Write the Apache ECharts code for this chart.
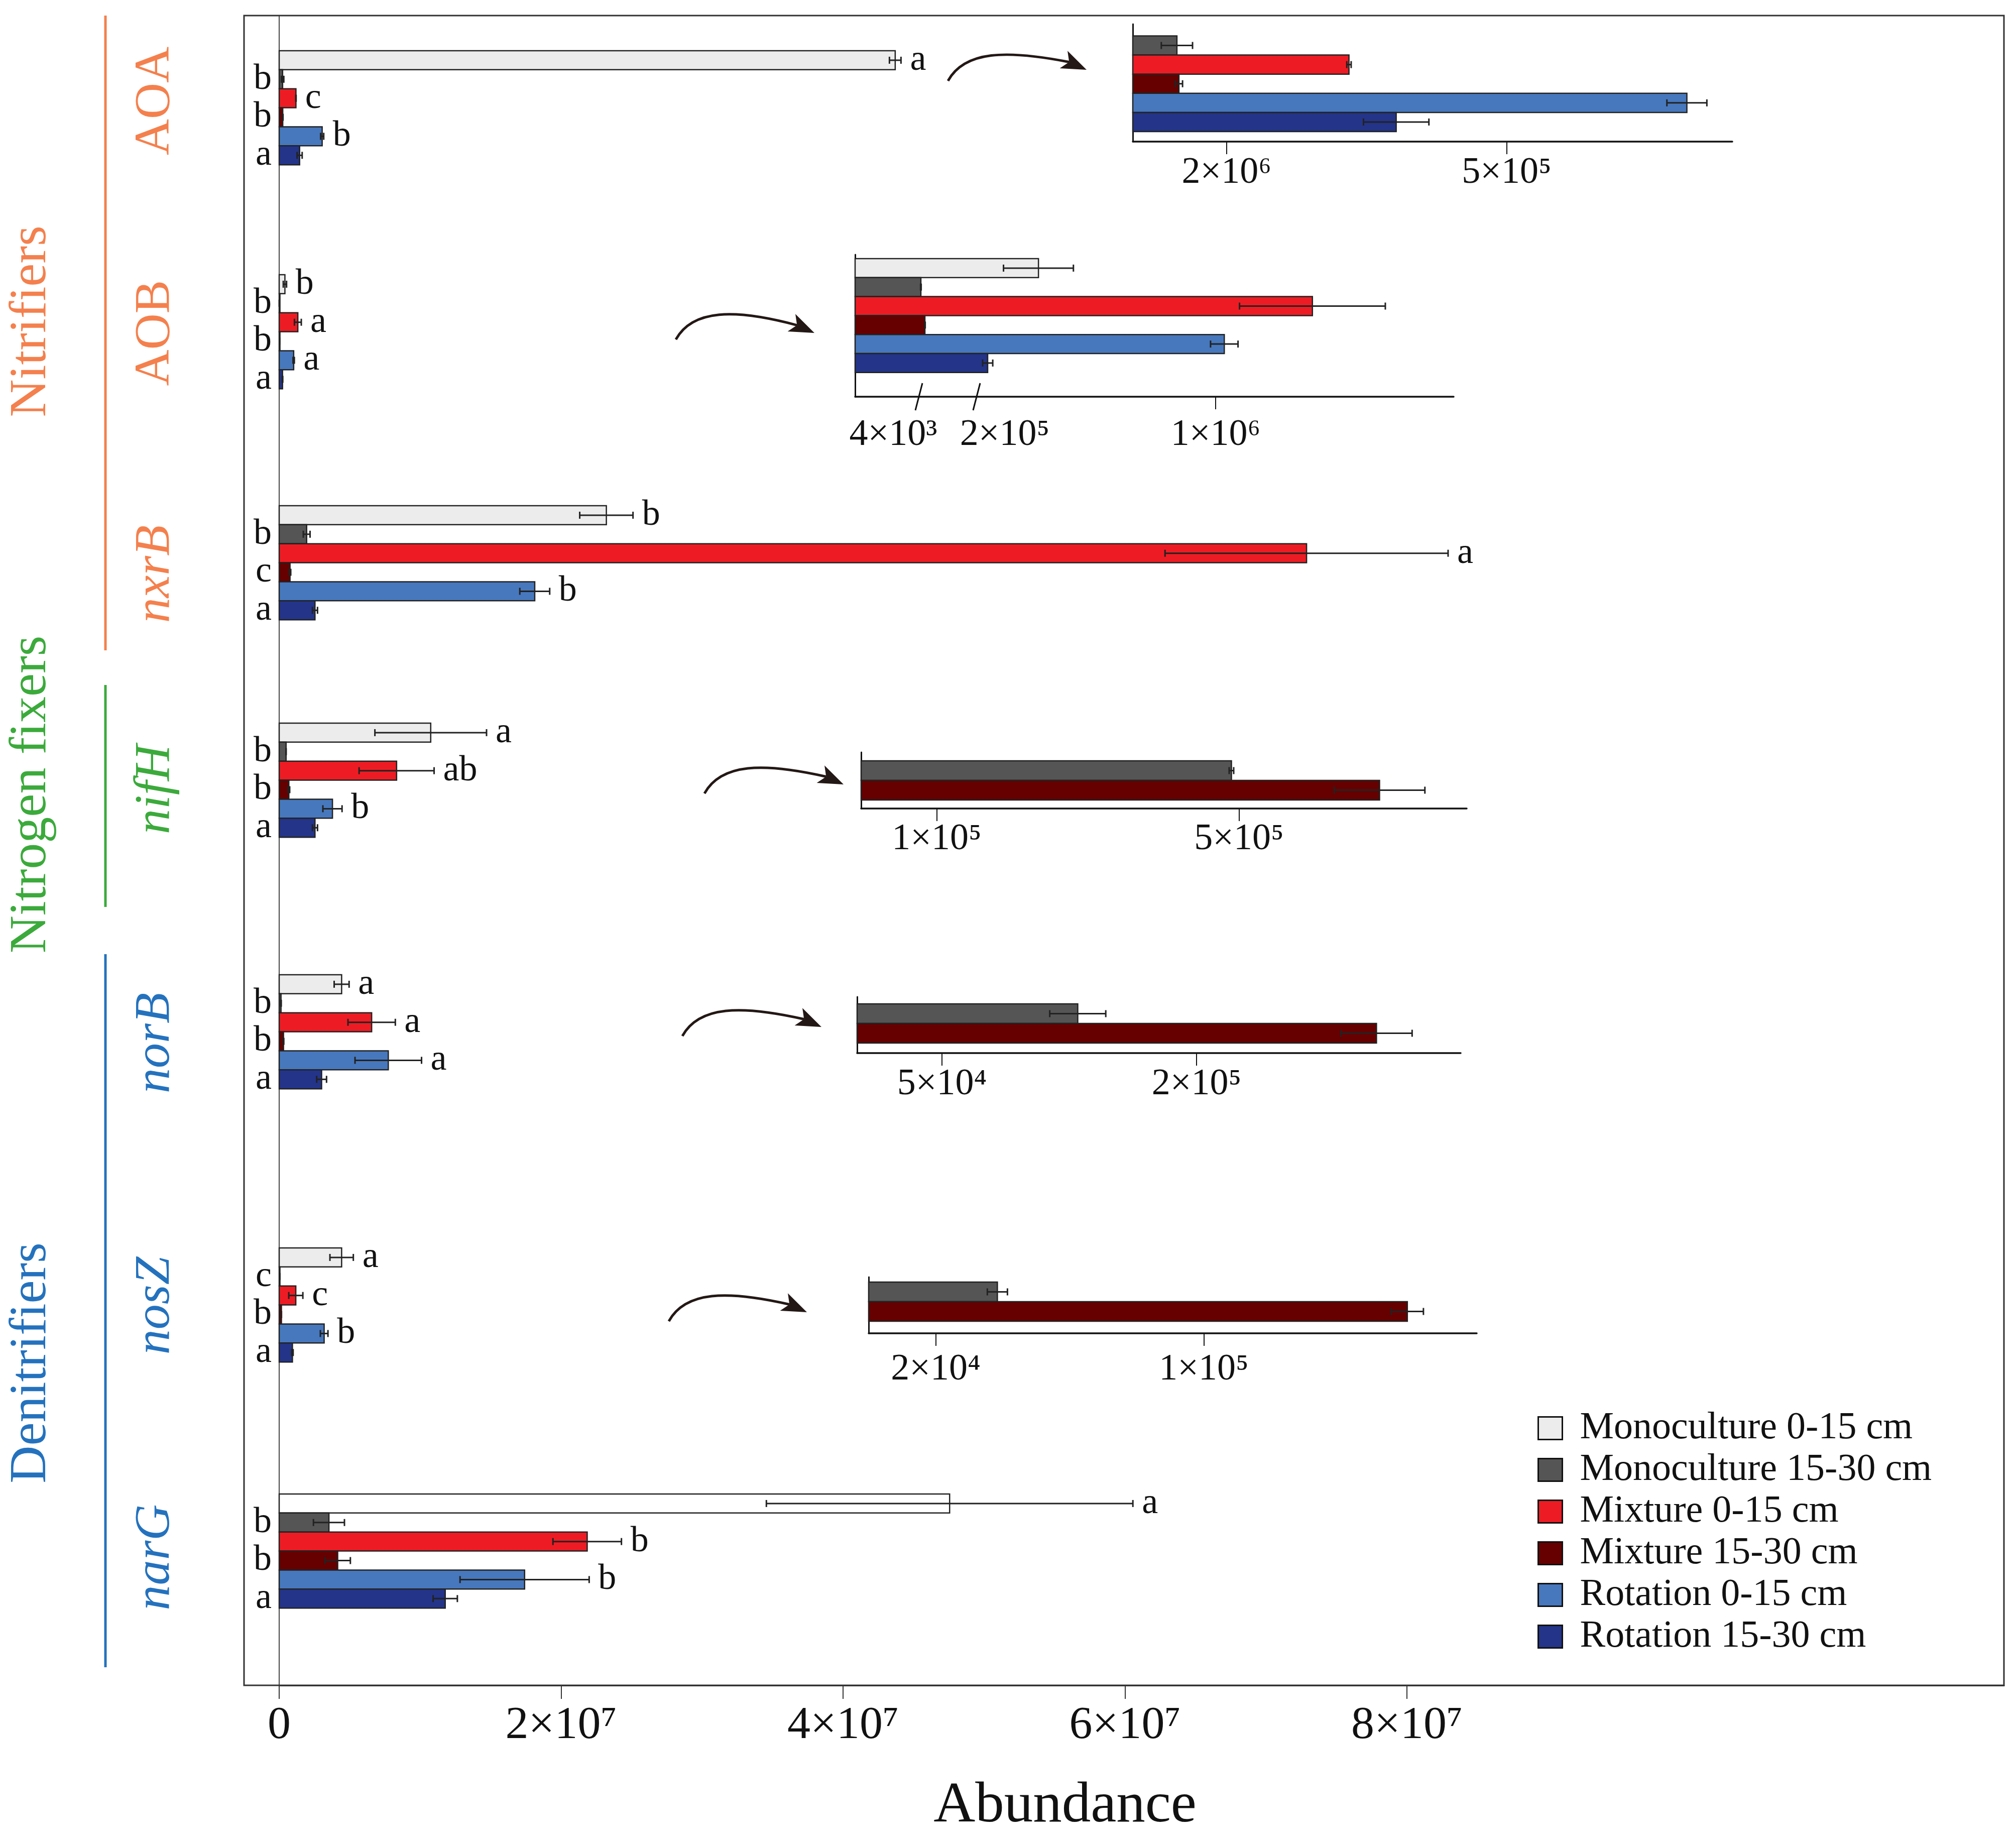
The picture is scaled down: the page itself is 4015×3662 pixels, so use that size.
<!DOCTYPE html>
<html><head><meta charset="utf-8">
<script src="https://cdn.jsdelivr.net/npm/echarts@6/dist/echarts.min.js"></script>
<style>html,body{margin:0;padding:0;background:#fff}#c{width:4015px;height:3662px}</style>
</head><body><div id="c"></div>
<script>
// ---------------- data ----------------
const genes = ['AOA', 'AOB', 'nxrB', 'nifH', 'norB', 'nosZ', 'narG'];
const treatments = ['Monoculture 0-15 cm', 'Monoculture 15-30 cm', 'Mixture 0-15 cm', 'Mixture 15-30 cm', 'Rotation 0-15 cm', 'Rotation 15-30 cm'];
// mean abundance (gene order as above)
const mono0_15  = [43.70e6, 0.407e6, 23.21e6, 10.75e6, 4.43e6, 4.43e6, 47.56e6];
const mono15_30 = [0.243e6, 0.0108e6, 1.95e6, 0.490e6, 0.130e6, 0.0384e6, 3.53e6];
const mix0_15   = [1.19e6, 1.324e6, 72.88e6, 8.33e6, 6.56e6, 1.18e6, 21.85e6];
const mix15_30  = [0.254e6, 0.0245e6, 0.77e6, 0.686e6, 0.306e6, 0.1607e6, 4.15e6];
const rot0_15   = [3.05e6, 1.029e6, 18.13e6, 3.78e6, 7.74e6, 3.19e6, 17.41e6];
const rot15_30  = [1.45e6, 0.237e6, 2.54e6, 2.54e6, 3.01e6, 0.94e6, 11.78e6];
// error bars (±)
const mono0_15Err  = [0.41e6, 0.117e6, 1.89e6, 3.96e6, 0.53e6, 0.83e6, 13.0e6];
const mono15_30Err = [0.086e6, 0.001e6, 0.24e6, 0.003e6, 0.0165e6, 0.003e6, 1.1e6];
const mix0_15Err   = [0.012e6, 0.244e6, 10.04e6, 2.66e6, 1.68e6, 0.50e6, 2.43e6];
const mix15_30Err  = [0.02e6, 0.001e6, 0.05e6, 0.060e6, 0.021e6, 0.0048e6, 0.9e6];
const rot0_15Err   = [0.11e6, 0.046e6, 1.06e6, 0.68e6, 2.36e6, 0.27e6, 4.58e6];
const rot15_30Err  = [0.18e6, 0.017e6, 0.18e6, 0.18e6, 0.35e6, 0.05e6, 0.86e6];
// significance letters
const mono0_15Sig  = ['a', 'b', 'b', 'a', 'a', 'a', 'a'];
const mono15_30Sig = ['b', 'b', 'b', 'b', 'b', 'c', 'b'];
const mix0_15Sig   = ['c', 'a', 'a', 'ab', 'a', 'c', 'b'];
const mix15_30Sig  = ['b', 'b', 'c', 'b', 'b', 'b', 'b'];
const rot0_15Sig   = ['b', 'a', 'b', 'b', 'a', 'b', 'b'];
const rot15_30Sig  = ['a', 'a', 'a', 'a', 'a', 'a', 'a'];
// axis ticks
const xTicks = [0, 2e7, 4e7, 6e7, 8e7];
const xTickLabels = ['0', '2×10⁷', '4×10⁷', '6×10⁷', '8×10⁷'];
const insetAOATicks = [0.516e6, 2.058e6];
const insetAOALabels = ['2×10⁶', '5×10⁵'];
const insetAOBTicks = [4e3, 2e5, 1e6];
const insetAOBLabels = ['4×10³', '2×10⁵', '1×10⁶'];
const insetNifHTicks = [1e5, 5e5];
const insetNifHLabels = ['1×10⁵', '5×10⁵'];
const insetNorBTicks = [5e4, 2e5];
const insetNorBLabels = ['5×10⁴', '2×10⁵'];
const insetNosZTicks = [2e4, 1e5];
const insetNosZLabels = ['2×10⁴', '1×10⁵'];
const groupNames = ['Nitrifiers', 'Nitrogen fixers', 'Denitrifiers'];

// ---------------- style / layout ----------------
const FONT = "'Liberation Serif','Times New Roman',serif";
const colors = ['#ECECEC', '#555555', '#ED1C24', '#660000', '#4778BD', '#233489'];
const valueSets = [mono0_15, mono15_30, mix0_15, mix15_30, rot0_15, rot15_30];
const errSets = [mono0_15Err, mono15_30Err, mix0_15Err, mix15_30Err, rot0_15Err, rot15_30Err];
const sigSets = [mono0_15Sig, mono15_30Sig, mix0_15Sig, mix15_30Sig, rot0_15Sig, rot15_30Sig];
const GRID_TOP = 31, GRID_BOTTOM = 3356, AXIS_X = 556, FRAME_LEFT = 486, FRAME_RIGHT = 3991;
const BAR_H = 37.87;
const PX_PER_2E7 = 561.5;
const XMAX = (FRAME_RIGHT - AXIS_X) / PX_PER_2E7 * 2e7;
const groupTopPx = [101, 547, 1007, 1440, 1941, 2485, 2975];
const geneLabelY = [201, 663, 1143, 1572, 2077, 2600, 3101];
const geneColors = ['#F4804D', '#F4804D', '#F4804D', '#3BAA3B', '#2472BE', '#2472BE', '#2472BE'];
const ROWS = (GRID_BOTTOM - GRID_TOP) / BAR_H;
const INK = '#222';

function aobScale(v) { // broken inset axis for AOB
  if (v <= 4e3) return v / 4e3 * 127;
  if (v <= 2e5) return 127 + (v - 4e3) / 196e3 * 115;
  return 242 + (v - 2e5) / 1e5 * 59.5;
}
const ident = v => v;

function errGroup(eL, eR, y) {
  return [
    {type: 'line', shape: {x1: eL, y1: y, x2: eR, y2: y}, style: {stroke: INK, lineWidth: 3}},
    {type: 'line', shape: {x1: eL, y1: y - 7, x2: eL, y2: y + 7}, style: {stroke: INK, lineWidth: 3}},
    {type: 'line', shape: {x1: eR, y1: y - 7, x2: eR, y2: y + 7}, style: {stroke: INK, lineWidth: 3}}
  ];
}

function mainRender(t) {
  return function (params, api) {
    const i = params.dataIndex;
    const v = api.value(0), row = api.value(1), err = api.value(2);
    const h = api.size([0, 1])[1];
    const p0 = api.coord([0, row]), p1 = api.coord([v, row]);
    const eL = api.coord([Math.max(0, v - err), row]), eR = api.coord([v + err, row]);
    const y = p0[1];
    const fill = (t === 0 && genes[i] === 'narG') ? '#FFFFFF' : colors[t];
    const children = [{type: 'rect', shape: {x: p0[0], y: y - h / 2, width: Math.max(p1[0] - p0[0], 1.5), height: h},
      style: {fill: fill, stroke: INK, lineWidth: 2.5}}].concat(errGroup(eL[0], eR[0], y));
    const right = t % 2 === 0;
    children.push({type: 'text', x: right ? eR[0] + 18 : p0[0] - 15, y: y,
      style: {text: sigSets[t][i], fontFamily: FONT, fontSize: 72, fill: '#111', align: right ? 'left' : 'right', verticalAlign: 'middle'}});
    return {type: 'group', children: children};
  };
}

function insetRender(t) {
  return function (params, api) {
    const v = api.value(0), row = api.value(1), lo = api.value(2), hi = api.value(3);
    const h = api.size([0, 1])[1];
    const p0 = api.coord([0, row]), p1 = api.coord([v, row]);
    const eL = api.coord([lo, row]), eR = api.coord([hi, row]);
    const y = p0[1];
    return {type: 'group', children: [{type: 'rect', shape: {x: p0[0], y: y - h / 2, width: Math.max(p1[0] - p0[0], 1.5), height: h},
      style: {fill: colors[t], stroke: INK, lineWidth: 2.5}}].concat(errGroup(eL[0], eR[0], y))};
  };
}

const insetDefs = [
  {gene: 0, show: [1, 2, 3, 4, 5], left: 2256, right: 3450, vertTop: 48, axisY: 282, barTop: 71.5, barH: 38.1, max: 3.30e6, scale: ident, ticks: insetAOATicks, labels: insetAOALabels, margin: 26},
  {gene: 1, show: [0, 1, 2, 3, 4, 5], left: 1703, right: 2895, vertTop: 507, axisY: 790, barTop: 515, barH: 37.8, max: 1192, scale: aobScale, ticks: insetAOBTicks, labels: insetAOBLabels, margin: 40, broken: true},
  {gene: 3, show: [1, 3], left: 1715, right: 2921, vertTop: 1498, axisY: 1610, barTop: 1515, barH: 39, max: 8.013e5, scale: ident, ticks: insetNifHTicks, labels: insetNifHLabels, margin: 25},
  {gene: 4, show: [1, 3], left: 1707, right: 2909, vertTop: 1985, axisY: 2097, barTop: 1999, barH: 39, max: 3.556e5, scale: ident, ticks: insetNorBTicks, labels: insetNorBLabels, margin: 26},
  {gene: 5, show: [1, 3], left: 1730, right: 2941, vertTop: 2543, axisY: 2655, barTop: 2553, barH: 39, max: 1.814e5, scale: ident, ticks: insetNosZTicks, labels: insetNosZLabels, margin: 36}
];

const grids = [{left: AXIS_X, top: GRID_TOP, width: FRAME_RIGHT - AXIS_X, height: GRID_BOTTOM - GRID_TOP}];
const xAxes = [{
  gridIndex: 0, type: 'value', min: 0, max: XMAX, position: 'bottom',
  axisLine: {show: true, onZero: false, lineStyle: {color: '#333', width: 3}},
  axisTick: {show: true, customValues: xTicks, length: 27, lineStyle: {color: '#333', width: 2}},
  axisLabel: {customValues: xTicks, margin: 35, fontFamily: FONT, fontSize: 92, color: '#111',
    formatter: v => { let k = 0; xTicks.forEach((tv, j) => { if (Math.abs(tv - v) < Math.abs(xTicks[k] - v)) k = j; }); return xTickLabels[k]; }},
  splitLine: {show: false}
}];
const yAxes = [{
  gridIndex: 0, type: 'value', inverse: true, min: 0, max: ROWS,
  axisLine: {show: true, onZero: false, lineStyle: {color: '#444', width: 2}},
  axisTick: {show: false}, axisLabel: {show: false}, splitLine: {show: false}
}];
const series = [];
treatments.forEach((name, t) => {
  series.push({
    type: 'custom', name: name, xAxisIndex: 0, yAxisIndex: 0,
    itemStyle: {color: colors[t], borderColor: INK, borderWidth: 2.5},
    encode: {x: 0, y: 1},
    renderItem: mainRender(t),
    data: genes.map((g, i) => [valueSets[t][i], (groupTopPx[i] - GRID_TOP) / BAR_H + t + 0.5, errSets[t][i]])
  });
});

insetDefs.forEach((d, n) => {
  const gi = n + 1;
  grids.push({left: d.left, top: d.vertTop, width: d.right - d.left, height: d.axisY - d.vertTop});
  const tickVals = d.ticks.map(d.scale);
  const rich = {};
  if (d.broken) { rich.s0 = {padding: [0, 102, 0, 0]}; rich.s1 = {padding: [0, 0, 0, 112]}; rich.s2 = {}; }
  xAxes.push({
    gridIndex: gi, type: 'value', min: 0, max: d.max, position: 'bottom',
    axisLine: {show: true, onZero: false, lineStyle: {color: '#111', width: 3.5}},
    axisTick: {show: true, customValues: d.broken ? [tickVals[2]] : tickVals, length: 25, lineStyle: {color: '#111', width: 2}},
    axisLabel: {customValues: tickVals, margin: d.margin, fontFamily: FONT, fontSize: 74, color: '#111', rich: rich,
      formatter: v => { let k = 0; tickVals.forEach((tv, j) => { if (Math.abs(tv - v) < Math.abs(tickVals[k] - v)) k = j; });
        return d.broken ? '{s' + k + '|' + d.labels[k] + '}' : d.labels[k]; }},
    splitLine: {show: false}
  });
  const rows = (d.axisY - d.vertTop) / d.barH;
  yAxes.push({
    gridIndex: gi, type: 'value', inverse: true, min: 0, max: rows,
    axisLine: {show: true, onZero: false, lineStyle: {color: '#111', width: 3}},
    axisTick: {show: false}, axisLabel: {show: false}, splitLine: {show: false}
  });
  d.show.forEach((t, k) => {
    const v = valueSets[t][d.gene], e = errSets[t][d.gene];
    series.push({
      type: 'custom', name: treatments[t], xAxisIndex: gi, yAxisIndex: gi,
      itemStyle: {color: colors[t], borderColor: INK, borderWidth: 2.5},
      encode: {x: 0, y: 1},
      renderItem: insetRender(t),
      data: [[d.scale(v), (d.barTop - d.vertTop) / d.barH + k + 0.5, d.scale(Math.max(0, v - e)), d.scale(v + e)]]
    });
  });
  if (d.broken) {
    series.push({
      type: 'custom', name: 'axis break', xAxisIndex: gi, yAxisIndex: gi, silent: true,
      encode: {x: 0},
      renderItem: function (params, api) {
        const p = api.coord([api.value(0), rows]);
        return {type: 'line', shape: {x1: p[0] - 7, y1: p[1] + 27, x2: p[0] + 7, y2: p[1] - 27}, style: {stroke: '#111', lineWidth: 3}};
      },
      data: [[tickVals[0]], [tickVals[1]]]
    });
  }
});

// ---------------- decorations ----------------
const graphics = [];
graphics.push({type: 'rect', shape: {x: FRAME_LEFT, y: GRID_TOP, width: FRAME_RIGHT - FRAME_LEFT, height: GRID_BOTTOM - GRID_TOP},
  style: {fill: null, stroke: '#333', lineWidth: 3}, z: 10});
const groupLines = [[31, 1295, '#F4804D'], [1364, 1806, '#3BAA3B'], [1900, 3320, '#2472BE']];
groupLines.forEach(g => graphics.push({type: 'line', shape: {x1: 210, y1: g[0], x2: 210, y2: g[1]}, style: {stroke: g[2], lineWidth: 5}}));
const groupLabelY = [640, 1582, 2714];
groupNames.forEach((name, k) => graphics.push({type: 'text', x: 63, y: groupLabelY[k], rotation: Math.PI / 2,
  style: {text: name, fontFamily: FONT, fontSize: 104, fill: groupLines[k][2], align: 'center', verticalAlign: 'middle'}}));
genes.forEach((g, i) => graphics.push({type: 'text', x: 310, y: geneLabelY[i], rotation: Math.PI / 2,
  style: {text: g, fontFamily: FONT, fontSize: 100, fontStyle: i >= 2 ? 'italic' : 'normal', fill: geneColors[i], align: 'center', verticalAlign: 'middle'}}));
graphics.push({type: 'text', x: 2121, y: 3597, style: {text: 'Abundance', fontFamily: FONT, fontSize: 115, fill: '#111', align: 'center', verticalAlign: 'middle'}});

const arrows = [[[1888, 161], [2164, 139]], [[1346, 676], [1622, 663]], [[1403, 1580], [1680, 1562]], [[1359, 2063], [1636, 2045]], [[1332, 2631], [1607, 2613]]];
arrows.forEach(a => {
  const S = a[0], T = a[1], dx = T[0] - S[0];
  const ang = 24 * Math.PI / 180, ux = Math.cos(ang), uy = Math.sin(ang);
  const L = 50, W = 19;
  const B = [T[0] - L * ux, T[1] - L * uy];
  const N = [T[0] - (L - 12) * ux, T[1] - (L - 12) * uy];
  graphics.push({type: 'bezierCurve', shape: {x1: S[0], y1: S[1], cpx1: S[0] + 0.12 * dx, cpy1: S[1] - 60, cpx2: S[0] + 0.42 * dx, cpy2: S[1] - 62, x2: N[0], y2: N[1]},
    style: {stroke: '#231815', lineWidth: 5, fill: null}});
  graphics.push({type: 'polygon', shape: {points: [[T[0], T[1]], [B[0] - W * uy, B[1] + W * ux], [N[0], N[1]], [B[0] + W * uy, B[1] - W * ux]]},
    style: {fill: '#231815'}});
});

const chart = echarts.init(document.getElementById('c'), null, {renderer: 'canvas', width: 4015, height: 3662});
chart.setOption({
  backgroundColor: '#ffffff',
  animation: false,
  grid: grids,
  xAxis: xAxes,
  yAxis: yAxes,
  legend: {
    data: treatments, orient: 'vertical', left: 3057, top: 2801,
    itemWidth: 48, itemHeight: 45, itemGap: 7, icon: 'rect',
    itemStyle: {borderColor: '#111', borderWidth: 3},
    textStyle: {fontFamily: FONT, fontSize: 76, color: '#111', padding: [0, 0, 0, 30]}
  },
  series: series,
  graphic: graphics
});
</script>
</body></html>
